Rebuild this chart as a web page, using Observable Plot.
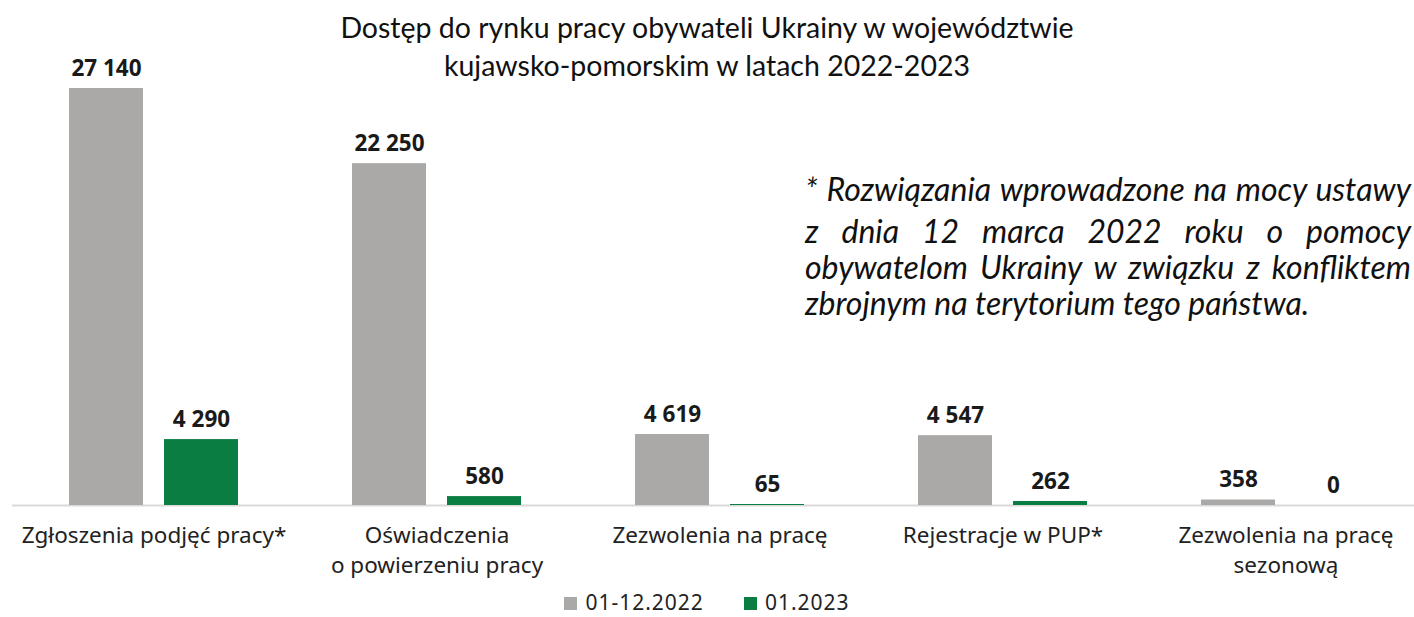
<!DOCTYPE html>
<html>
<head>
<meta charset="utf-8">
<script src="https://cdn.jsdelivr.net/npm/d3@7"></script>
<script src="https://cdn.jsdelivr.net/npm/@observablehq/plot@0.6"></script>
<style>
  html, body { margin: 0; padding: 0; background: #fff; }
  #wrap { position: relative; width: 1414px; height: 617px; overflow: hidden; }
  #title { position: absolute; left: 0; width: 1414px; top: 8px; text-align: center;
    font-family: Lato, sans-serif; font-size: 28.5px; line-height: 38px; color: #111; }
  #note { position: absolute; left: 805px; top: 171px; width: 606px;
    font-family: Lato, sans-serif; font-style: italic; font-size: 32px; color: #111; }
  #note div { text-align: justify; text-align-last: justify; line-height: 36px; white-space: nowrap; }
  #note div.first { margin-bottom: 6px; }
  #note div.last { text-align: left; text-align-last: left; }
  #legend { position: absolute; top: 588px; left: 0; width: 1414px; display: flex; justify-content: center; gap: 40px;
    font-family: "Noto Sans", sans-serif; font-size: 21px; line-height: 28px; letter-spacing: 1px; color: #222; }
  #legend span.sw { display: inline-block; width: 13px; height: 13px; margin-right: 8px; vertical-align: 0px; }
  #chart { position: absolute; left: 0; top: 0; }
</style>
</head>
<body>
<div id="wrap">
  <div id="chart"></div>
  <div id="title">Dostęp do rynku pracy obywateli Ukrainy w województwie<br>kujawsko-pomorskim w latach 2022-2023</div>
  <div id="note">
    <div class="first">* Rozwiązania wprowadzone na mocy ustawy</div>
    <div>z dnia 12 marca 2022 roku o pomocy</div>
    <div>obywatelom Ukrainy w związku z konfliktem</div>
    <div class="last">zbrojnym na terytorium tego państwa.</div>
  </div>
  <div id="legend"></div>
</div>
<script>
const categories = [
  "Zgłoszenia podjęć pracy*",
  "Oświadczenia o powierzeniu pracy",
  "Zezwolenia na pracę",
  "Rejestracje w PUP*",
  "Zezwolenia na pracę sezonową"
];
const tickLabels = [
  "Zgłoszenia podjęć pracy*",
  "Oświadczenia\no powierzeniu pracy",
  "Zezwolenia na pracę",
  "Rejestracje w PUP*",
  "Zezwolenia na pracę\nsezonową"
];
const seriesNames = ["01-12.2022", "01.2023"];
const values2022 = [27140, 22250, 4619, 4547, 358];
const values2023 = [4290, 580, 65, 262, 0];
const colors = ["#aba9a8", "#0a7d42"];

const data = [];
categories.forEach((c, i) => {
  data.push({category: c, series: seriesNames[0], value: values2022[i]});
  data.push({category: c, series: seriesNames[1], value: values2023[i]});
});

const fmt = v => d3.format(",")(v).replace(/,/g, " ");
const labelOf = new Map(categories.map((c, i) => [c, tickLabels[i]]));

const W = 1414, H = 585;
const chart = Plot.plot({
  width: W,
  height: H,
  marginTop: 88,
  marginBottom: H - 505,
  marginLeft: 0,
  marginRight: 0,
  style: {background: "transparent", overflow: "visible", fontFamily: "'Noto Sans', sans-serif", fontSize: "22px"},
  fx: {domain: categories, range: [11.5, 1426.5], padding: 0, axis: null},
  x: {domain: seriesNames, paddingInner: 0.22, paddingOuter: 0.59, axis: null},
  y: {domain: [0, 27140], nice: false, axis: null},
  color: {domain: seriesNames, range: colors},
  marks: [
    Plot.ruleY([0], {stroke: "#d9d9d9", strokeWidth: 2}),
    Plot.barY(data, {fx: "category", x: "series", y: "value", fill: "series"}),
    Plot.text(data, {fx: "category", x: "series", y: "value", text: d => fmt(d.value),
      dy: -20, fontWeight: "bold", fontSize: 22.5, fill: "#1a1a1a"}),
    Plot.axisFx({anchor: "bottom", tickSize: 0, tickPadding: 16, lineHeight: 1.34,
      tickFormat: d => labelOf.get(d), fontSize: 22.5, fill: "#222", label: null})
  ]
});
document.getElementById("chart").appendChild(chart);

const legend = document.getElementById("legend");
seriesNames.forEach((s, i) => {
  const item = document.createElement("div");
  item.innerHTML = `<span class="sw" style="background:${colors[i]}"></span>${s}`;
  legend.appendChild(item);
});
</script>
</body>
</html>
